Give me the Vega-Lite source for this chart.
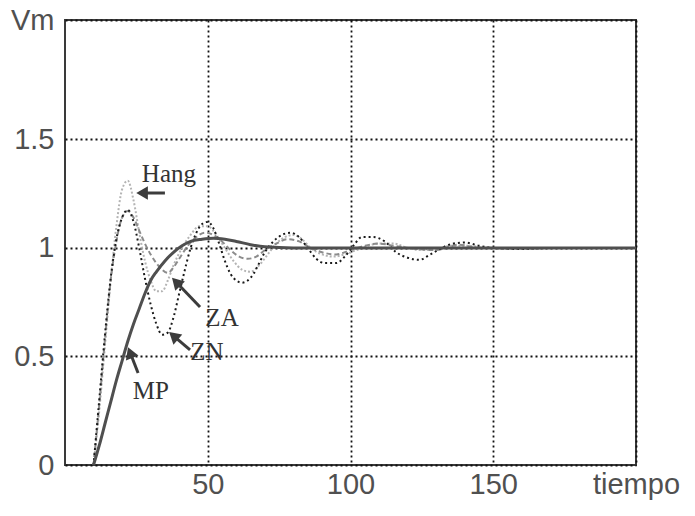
{
  "$schema": "https://vega.github.io/schema/vega-lite/v6.json",
  "width": 571,
  "height": 445,
  "autosize": "none",
  "padding": {"left": 65, "right": 59, "top": 20, "bottom": 51},
  "background": "white",
  "datasets": {
    "curves": [
      {"series": "Hang", "t": 10, "v": 0}, {"series": "Hang", "t": 12, "v": 0.25}, {"series": "Hang", "t": 14, "v": 0.55}, {"series": "Hang", "t": 16, "v": 0.85}, {"series": "Hang", "t": 18, "v": 1.1}, {"series": "Hang", "t": 20, "v": 1.27}, {"series": "Hang", "t": 22, "v": 1.31}, {"series": "Hang", "t": 24, "v": 1.22}, {"series": "Hang", "t": 26, "v": 1.07}, {"series": "Hang", "t": 28, "v": 0.94}, {"series": "Hang", "t": 30, "v": 0.85}, {"series": "Hang", "t": 32, "v": 0.8}, {"series": "Hang", "t": 34, "v": 0.8}, {"series": "Hang", "t": 36, "v": 0.85}, {"series": "Hang", "t": 38, "v": 0.92}, {"series": "Hang", "t": 41, "v": 1.0}, {"series": "Hang", "t": 44, "v": 1.06}, {"series": "Hang", "t": 47, "v": 1.1}, {"series": "Hang", "t": 50, "v": 1.1}, {"series": "Hang", "t": 53, "v": 1.06}, {"series": "Hang", "t": 56, "v": 1.0}, {"series": "Hang", "t": 59, "v": 0.94}, {"series": "Hang", "t": 62, "v": 0.9}, {"series": "Hang", "t": 65, "v": 0.89}, {"series": "Hang", "t": 68, "v": 0.92}, {"series": "Hang", "t": 71, "v": 0.97}, {"series": "Hang", "t": 74, "v": 1.02}, {"series": "Hang", "t": 77, "v": 1.05}, {"series": "Hang", "t": 80, "v": 1.06}, {"series": "Hang", "t": 83, "v": 1.04}, {"series": "Hang", "t": 86, "v": 1.0}, {"series": "Hang", "t": 90, "v": 0.97}, {"series": "Hang", "t": 94, "v": 0.96}, {"series": "Hang", "t": 98, "v": 0.97}, {"series": "Hang", "t": 102, "v": 0.99}, {"series": "Hang", "t": 106, "v": 1.01}, {"series": "Hang", "t": 110, "v": 1.02}, {"series": "Hang", "t": 115, "v": 1.02}, {"series": "Hang", "t": 120, "v": 1.0}, {"series": "Hang", "t": 125, "v": 0.99}, {"series": "Hang", "t": 130, "v": 0.995}, {"series": "Hang", "t": 135, "v": 1.01}, {"series": "Hang", "t": 140, "v": 1.01}, {"series": "Hang", "t": 150, "v": 1.0}, {"series": "Hang", "t": 200, "v": 1.0},
      {"series": "ZA", "t": 10, "v": 0}, {"series": "ZA", "t": 12, "v": 0.28}, {"series": "ZA", "t": 14, "v": 0.58}, {"series": "ZA", "t": 16, "v": 0.85}, {"series": "ZA", "t": 18, "v": 1.03}, {"series": "ZA", "t": 20, "v": 1.14}, {"series": "ZA", "t": 22, "v": 1.17}, {"series": "ZA", "t": 24, "v": 1.14}, {"series": "ZA", "t": 26, "v": 1.08}, {"series": "ZA", "t": 28, "v": 1.02}, {"series": "ZA", "t": 30, "v": 0.97}, {"series": "ZA", "t": 32, "v": 0.93}, {"series": "ZA", "t": 34, "v": 0.9}, {"series": "ZA", "t": 36, "v": 0.885}, {"series": "ZA", "t": 38, "v": 0.91}, {"series": "ZA", "t": 40, "v": 0.95}, {"series": "ZA", "t": 43, "v": 1.01}, {"series": "ZA", "t": 46, "v": 1.05}, {"series": "ZA", "t": 49, "v": 1.07}, {"series": "ZA", "t": 52, "v": 1.06}, {"series": "ZA", "t": 55, "v": 1.03}, {"series": "ZA", "t": 58, "v": 0.99}, {"series": "ZA", "t": 61, "v": 0.96}, {"series": "ZA", "t": 64, "v": 0.95}, {"series": "ZA", "t": 67, "v": 0.96}, {"series": "ZA", "t": 70, "v": 0.99}, {"series": "ZA", "t": 74, "v": 1.02}, {"series": "ZA", "t": 78, "v": 1.04}, {"series": "ZA", "t": 82, "v": 1.03}, {"series": "ZA", "t": 86, "v": 1.0}, {"series": "ZA", "t": 90, "v": 0.98}, {"series": "ZA", "t": 95, "v": 0.97}, {"series": "ZA", "t": 100, "v": 0.99}, {"series": "ZA", "t": 105, "v": 1.01}, {"series": "ZA", "t": 110, "v": 1.02}, {"series": "ZA", "t": 115, "v": 1.01}, {"series": "ZA", "t": 120, "v": 1.0}, {"series": "ZA", "t": 130, "v": 0.99}, {"series": "ZA", "t": 138, "v": 1.015}, {"series": "ZA", "t": 145, "v": 1.0}, {"series": "ZA", "t": 200, "v": 1.0},
      {"series": "ZN", "t": 10, "v": 0}, {"series": "ZN", "t": 12, "v": 0.3}, {"series": "ZN", "t": 14, "v": 0.6}, {"series": "ZN", "t": 16, "v": 0.86}, {"series": "ZN", "t": 18, "v": 1.04}, {"series": "ZN", "t": 20, "v": 1.14}, {"series": "ZN", "t": 22, "v": 1.175}, {"series": "ZN", "t": 24, "v": 1.12}, {"series": "ZN", "t": 26, "v": 1.0}, {"series": "ZN", "t": 28, "v": 0.86}, {"series": "ZN", "t": 30, "v": 0.74}, {"series": "ZN", "t": 32, "v": 0.65}, {"series": "ZN", "t": 34, "v": 0.6}, {"series": "ZN", "t": 36, "v": 0.61}, {"series": "ZN", "t": 38, "v": 0.68}, {"series": "ZN", "t": 40, "v": 0.79}, {"series": "ZN", "t": 42, "v": 0.9}, {"series": "ZN", "t": 44, "v": 1.0}, {"series": "ZN", "t": 46, "v": 1.07}, {"series": "ZN", "t": 48, "v": 1.11}, {"series": "ZN", "t": 50, "v": 1.12}, {"series": "ZN", "t": 52, "v": 1.09}, {"series": "ZN", "t": 54, "v": 1.02}, {"series": "ZN", "t": 56, "v": 0.94}, {"series": "ZN", "t": 58, "v": 0.88}, {"series": "ZN", "t": 60, "v": 0.85}, {"series": "ZN", "t": 62, "v": 0.84}, {"series": "ZN", "t": 64, "v": 0.85}, {"series": "ZN", "t": 66, "v": 0.88}, {"series": "ZN", "t": 68, "v": 0.93}, {"series": "ZN", "t": 70, "v": 0.98}, {"series": "ZN", "t": 73, "v": 1.03}, {"series": "ZN", "t": 76, "v": 1.06}, {"series": "ZN", "t": 79, "v": 1.07}, {"series": "ZN", "t": 82, "v": 1.05}, {"series": "ZN", "t": 85, "v": 1.0}, {"series": "ZN", "t": 88, "v": 0.95}, {"series": "ZN", "t": 91, "v": 0.93}, {"series": "ZN", "t": 95, "v": 0.93}, {"series": "ZN", "t": 98, "v": 0.96}, {"series": "ZN", "t": 101, "v": 1.01}, {"series": "ZN", "t": 104, "v": 1.05}, {"series": "ZN", "t": 108, "v": 1.05}, {"series": "ZN", "t": 112, "v": 1.03}, {"series": "ZN", "t": 116, "v": 0.98}, {"series": "ZN", "t": 120, "v": 0.955}, {"series": "ZN", "t": 124, "v": 0.945}, {"series": "ZN", "t": 128, "v": 0.97}, {"series": "ZN", "t": 132, "v": 1.0}, {"series": "ZN", "t": 136, "v": 1.02}, {"series": "ZN", "t": 140, "v": 1.025}, {"series": "ZN", "t": 145, "v": 1.01}, {"series": "ZN", "t": 150, "v": 1.0}, {"series": "ZN", "t": 160, "v": 0.995}, {"series": "ZN", "t": 170, "v": 1.0}, {"series": "ZN", "t": 200, "v": 1.0},
      {"series": "MP", "t": 10, "v": 0}, {"series": "MP", "t": 12, "v": 0.09}, {"series": "MP", "t": 14, "v": 0.19}, {"series": "MP", "t": 16, "v": 0.29}, {"series": "MP", "t": 18, "v": 0.39}, {"series": "MP", "t": 20, "v": 0.48}, {"series": "MP", "t": 22, "v": 0.57}, {"series": "MP", "t": 24, "v": 0.65}, {"series": "MP", "t": 26, "v": 0.72}, {"series": "MP", "t": 28, "v": 0.79}, {"series": "MP", "t": 30, "v": 0.85}, {"series": "MP", "t": 32, "v": 0.89}, {"series": "MP", "t": 35, "v": 0.94}, {"series": "MP", "t": 38, "v": 0.98}, {"series": "MP", "t": 41, "v": 1.01}, {"series": "MP", "t": 44, "v": 1.03}, {"series": "MP", "t": 48, "v": 1.04}, {"series": "MP", "t": 52, "v": 1.045}, {"series": "MP", "t": 56, "v": 1.04}, {"series": "MP", "t": 60, "v": 1.03}, {"series": "MP", "t": 65, "v": 1.015}, {"series": "MP", "t": 70, "v": 1.005}, {"series": "MP", "t": 80, "v": 1.0}, {"series": "MP", "t": 100, "v": 1.0}, {"series": "MP", "t": 200, "v": 1.0}
    ],
    "labels": [
      {"label": "Hang", "t": 36.4, "v": 1.34},
      {"label": "ZA", "t": 55.0, "v": 0.677},
      {"label": "ZN", "t": 49.7, "v": 0.52},
      {"label": "MP", "t": 30.1, "v": 0.34}
    ],
    "arrows": [
      {"label": "Hang", "t": 35.0, "v": 1.253, "th": 27.0, "vh": 1.253},
      {"label": "ZA", "t": 47.3, "v": 0.728, "th": 38.9, "vh": 0.843},
      {"label": "ZN", "t": 43.8, "v": 0.53, "th": 38.0, "vh": 0.595},
      {"label": "MP", "t": 25.6, "v": 0.424, "th": 22.8, "vh": 0.518}
    ]
  },
  "config": {
    "view": {"stroke": "#3a3a3a", "strokeWidth": 2},
    "axis": {
      "labelFont": "Liberation Sans",
      "labelFontSize": 29,
      "labelColor": "#505050",
      "grid": true,
      "gridColor": "#111111",
      "gridDash": [2, 3],
      "gridWidth": 1.8,
      "domain": false,
      "ticks": false,
      "title": null,
      "labelOverlap": false,
      "labelBound": false,
      "labelFlush": false
    }
  },
  "encoding": {
    "x": {"field": "t", "type": "quantitative", "scale": {"domain": [0, 200], "nice": false, "zero": false},
      "axis": {"values": [50, 100, 150, 200], "labelPadding": 5, "labelExpr": "datum.value == 200 ? 'tiempo' : datum.label"}},
    "y": {"field": "v", "type": "quantitative", "scale": {"domain": [0, 2.05], "nice": false},
      "axis": {"values": [0, 0.5, 1, 1.5, 2.05], "labelPadding": 11, "labelExpr": "datum.value > 2 ? 'Vm' : toString(datum.value)"}}
  },
  "layer": [
    {"data": {"name": "curves"}, "transform": [{"filter": "datum.series == 'Hang'"}],
      "mark": {"type": "line", "interpolate": "monotone", "color": "#b4b4b4", "strokeWidth": 2, "strokeDash": [2, 2], "clip": true}},
    {"data": {"name": "curves"}, "transform": [{"filter": "datum.series == 'ZA'"}],
      "mark": {"type": "line", "interpolate": "monotone", "color": "#8c8c8c", "strokeWidth": 2, "strokeDash": [5, 3], "clip": true}},
    {"data": {"name": "curves"}, "transform": [{"filter": "datum.series == 'ZN'"}],
      "mark": {"type": "line", "interpolate": "monotone", "color": "#1a1a1a", "strokeWidth": 2, "strokeDash": [2, 3], "clip": true}},
    {"data": {"name": "curves"}, "transform": [{"filter": "datum.series == 'MP'"}],
      "mark": {"type": "line", "interpolate": "monotone", "color": "#4f4f4f", "strokeWidth": 3, "clip": true}},
    {"data": {"name": "arrows"},
      "mark": {"type": "rule", "color": "#3c3c3c", "strokeWidth": 3},
      "encoding": {"x2": {"field": "th"}, "y2": {"field": "vh"}}},
    {"data": {"name": "arrows"}, "transform": [{"filter": "datum.label == 'Hang'"}],
      "mark": {"type": "point", "shape": "triangle-up", "filled": true, "color": "#3c3c3c", "size": 180, "angle": 270, "opacity": 1},
      "encoding": {"x": {"field": "th", "type": "quantitative"}, "y": {"field": "vh", "type": "quantitative"}}},
    {"data": {"name": "arrows"}, "transform": [{"filter": "datum.label == 'ZA'"}],
      "mark": {"type": "point", "shape": "triangle-up", "filled": true, "color": "#3c3c3c", "size": 180, "angle": 316, "opacity": 1},
      "encoding": {"x": {"field": "th", "type": "quantitative"}, "y": {"field": "vh", "type": "quantitative"}}},
    {"data": {"name": "arrows"}, "transform": [{"filter": "datum.label == 'ZN'"}],
      "mark": {"type": "point", "shape": "triangle-up", "filled": true, "color": "#3c3c3c", "size": 180, "angle": 311, "opacity": 1},
      "encoding": {"x": {"field": "th", "type": "quantitative"}, "y": {"field": "vh", "type": "quantitative"}}},
    {"data": {"name": "arrows"}, "transform": [{"filter": "datum.label == 'MP'"}],
      "mark": {"type": "point", "shape": "triangle-up", "filled": true, "color": "#3c3c3c", "size": 180, "angle": 339, "opacity": 1},
      "encoding": {"x": {"field": "th", "type": "quantitative"}, "y": {"field": "vh", "type": "quantitative"}}},
    {"data": {"name": "labels"},
      "mark": {"type": "text", "font": "Liberation Serif", "fontSize": 25, "color": "#333333", "align": "center", "baseline": "middle"},
      "encoding": {"text": {"field": "label"}}}
  ]
}
